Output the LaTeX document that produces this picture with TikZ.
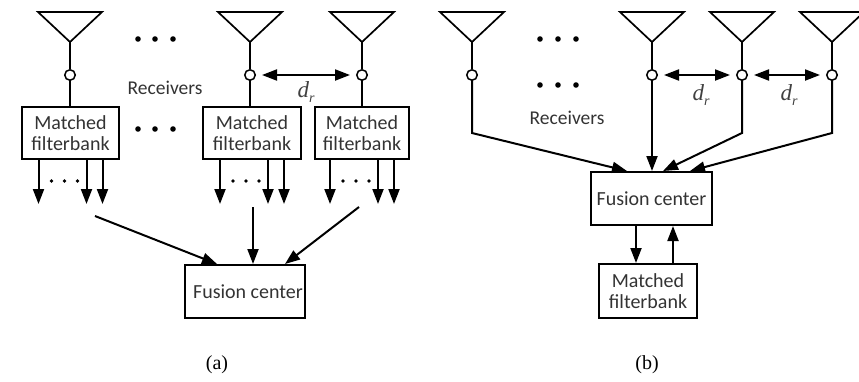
\documentclass[tikz,border=0pt]{standalone}
\usepackage{fontspec}
\newfontfamily\calib{Carlito}
\newfontfamily\tms{Liberation Serif}
\usetikzlibrary{arrows.meta,positioning}
\newcommand{\dsub}{d\raisebox{-5pt}{\fontsize{14}{14}\selectfont r}}
\tikzset{
  blk/.style={draw, line width=2pt, align=center, inner sep=0pt, text=black!80,
    font=\calib\fontsize{20}{20.5}\selectfont},
  rx/.style={circle, draw, fill=white, line width=1.5pt, minimum size=10.5pt, inner sep=0pt},
  ant/.style={line width=1.7pt, line join=miter},
  wire/.style={line width=2pt},
  sig/.style={line width=2pt, -{Triangle[length=15pt,width=11pt]}},
  dist/.style={line width=2pt, {Triangle[length=15pt,width=11pt]}-{Triangle[length=15pt,width=11pt]},
    shorten <=6pt, shorten >=6pt},
  lbl/.style={text=black!80, font=\calib\fontsize{19.5}{20}\selectfont},
  dlbl/.style={text=black!75, font=\tms\itshape\fontsize{23}{23}\selectfont},
  capt/.style={font=\tms\fontsize{20}{20}\selectfont}
}
\begin{document}
\begin{tikzpicture}[x=1pt, y=-1pt]
  \useasboundingbox (0,0) rectangle (859,381);
  % antennas and receiver taps
  \foreach \x/\n in {70/rxa1, 250/rxa2, 362/rxa3, 472/rxb1, 652/rxb2, 742/rxb3, 832/rxb4} {
    \draw[ant] (\x-32,12) -- (\x+32,12) -- (\x,42) -- cycle;
    \node[rx] (\n) at (\x,75) {};
    \draw[wire] (\x,42) -- (\n);
  }
  \foreach \x in {138,155,173} {
    \fill (\x,39) circle (2.8pt);
    \fill (\x,129) circle (2.8pt);
  }
  \foreach \x in {540,558,576} {
    \fill (\x,39) circle (2.8pt);
    \fill (\x,85) circle (2.8pt);
  }

  % (a)
  \node[lbl] (rcva) at (165,88) {Receivers};
  \node[blk, minimum width=97pt, minimum height=52pt] (mfa1) at (70.5,133) {Matched\\filterbank};
  \node[blk, minimum width=98pt, minimum height=52pt] (mfa2) at (252,133) {Matched\\filterbank};
  \node[blk, minimum width=94pt, minimum height=52pt] (mfa3) at (362,133) {Matched\\filterbank};
  \draw[wire] (rxa1) -- (rxa1 |- mfa1.north);
  \draw[wire] (rxa2) -- (rxa2 |- mfa2.north);
  \draw[wire] (rxa3) -- (rxa3 |- mfa3.north);
  \draw[dist] (rxa2) -- (rxa3);
  \node[dlbl] (dra) at (306,92) {\dsub};
  \foreach \b in {mfa1,mfa2,mfa3} {
    \foreach \s in {-32,16,32}
      \draw[sig] ([xshift=\s pt]\b.south) -- ++(0,44);
    \foreach \s in {-19,-6,7}
      \fill ([xshift=\s pt]\b.south) ++(0,21) circle (1.8pt);
  }
  \node[blk, minimum width=120pt, minimum height=53pt] (fca) at (245,291.5) {\hspace{6pt}Fusion center};
  \coordinate (ina1) at (95,216);
  \coordinate (ina2) at (253,207);
  \coordinate (ina3) at (359,207);
  \draw[sig] (ina1) -- ([xshift=-28pt]fca.north);
  \draw[sig] (ina2) -- (ina2 |- fca.north);
  \draw[sig] (ina3) -- ([xshift=40pt]fca.north);
  \node[capt] (capa) at (217,365) {(a)};

  % (b)
  \node[lbl] (rcvb) at (567,118) {Receivers};
  \node[blk, minimum width=121pt, minimum height=53pt] (fcb) at (651.5,198.5) {Fusion center};
  \node[blk, minimum width=98pt, minimum height=54pt] (mfb) at (648,291) {Matched\\filterbank};
  \coordinate (kb1) at (472,133);
  \coordinate (kb3) at (742,133);
  \coordinate (kb4) at (832,133);
  \draw[sig] (rxb1) -- (kb1) -- ([xshift=-24.5pt]fcb.north);
  \draw[sig] (rxb2) -- (rxb2 |- fcb.north);
  \draw[sig] (rxb3) -- (kb3) -- ([xshift=11.5pt]fcb.north);
  \draw[sig] (rxb4) -- (kb4) -- ([xshift=38.5pt]fcb.north);
  \draw[dist] (rxb2) -- (rxb3);
  \draw[dist] (rxb3) -- (rxb4);
  \node[dlbl] (drb1) at (701,95) {\dsub};
  \node[dlbl] (drb2) at (789,95) {\dsub};
  \coordinate (dn) at (636,0);
  \coordinate (up) at (673,0);
  \draw[sig] (fcb.south -| dn) -- (mfb.north -| dn);
  \draw[sig] (mfb.north -| up) -- (fcb.south -| up);
  \node[capt] (capb) at (647,365) {(b)};
\end{tikzpicture}
\end{document}
